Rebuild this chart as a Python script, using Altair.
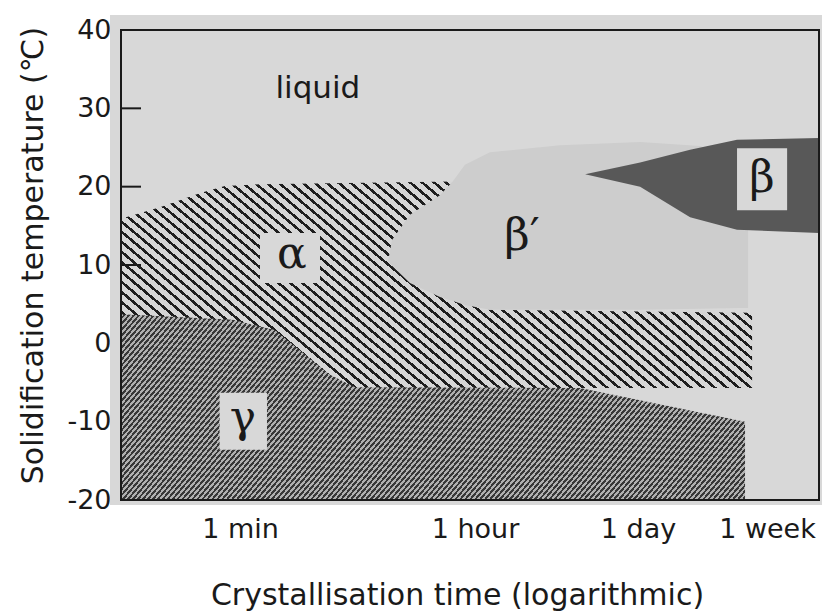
import math
import altair as alt
import pandas as pd

# ---------------- data ----------------
# x: crystallisation time in seconds (drawn on a hand-made logarithmic axis)
time_domain = [7.5, 60, 3600, 86400, 604800, 1.32e6]
time_ticks = [60, 3600, 86400, 604800]
time_tick_labels = ["1 min", "1 hour", "1 day", "1 week"]
temp_ticks = [40, 30, 20, 10, 0, -10, -20]
inner_ticks = [30, 20, 10]

# alpha (hatched \\\ region)
alpha_t = [7.5, 15, 30, 46, 85, 3296, 3965, 483000]
alpha_top = [15.9, 17.4, 19.2, 20.1, 20.3, 20.7, 4.3, 3.9]
alpha_bottom = [-5.7, -5.7, -5.7, -5.7, -5.7, -5.7, -5.7, -5.7]

# gamma (dense /// region)
gamma_t = [7.5, 53, 110, 288, 445, 27900, 434300]
gamma_top = [3.7, 3.0, 1.7, -4.0, -5.6, -5.7, -10.0]
gamma_bottom = [-20, -20, -20, -20, -20, -20, -20]

# beta prime (light stipple)
bp_t = [790, 848, 1160, 1954, 2449, 3020, 4820, 18900, 89200, 220500, 402600, 454600]
bp_top = [10.4, 13.2, 16.4, 18.9, 20.7, 22.8, 24.4, 25.3, 25.7, 25.2, 23.4, 23.4]
bp_bottom = [10.4, 9.9, 7.7, 5.9, 5.4, 4.9, 4.3, 4.3, 4.3, 4.4, 4.5, 4.5]

# beta (dark wedge)
b_t = [30800, 89200, 189600, 384800, 1.32e6]
b_top = [21.6, 23.1, 24.7, 26.0, 26.2]
b_bottom = [21.6, 20.0, 16.1, 14.5, 14.1]

# phase names
phase_labels = ["liquid", "α", "β′", "β", "γ"]
phase_kind = ["sans", "serif", "serif", "serif", "serif"]
phase_t = [233, 148, 9000, 561000, 63]
phase_temp = [31.3, 9.6, 11.9, 19.3, -11.3]

# cleared boxes behind the Greek letters
box_t0 = [85, 384800, 42]
box_t1 = [242, 818000, 96]
box_top = [14.1, 24.9, -6.3]
box_bottom = [7.7, 17.0, -13.6]

# ---------------- styling ----------------
LIQUID = "#d8d8d8"
INK = "#1a1a1a"
W, H = 698, 470


def hatch(w, h, ang, period, lw, c_line, c_bg):
    """Striped linear gradient (objectBoundingBox units) giving screen-space hatching."""
    a = math.radians(ang)
    dx, dy = math.cos(a), math.sin(a)
    nx, ny = -dy, dx
    corners = [(0, 0), (w, 0), (0, h), (w, h)]
    us = [cx * nx + cy * ny for cx, cy in corners]
    i0 = us.index(min(us))
    L = max(us) - min(us)
    k = L / (nx * nx * w / h + ny * ny * h / w)
    x1 = corners[i0][0] / w
    y1 = corners[i0][1] / h
    x2 = x1 + k * nx / h
    y2 = y1 + k * ny / w
    stops = [alt.GradientStop(color=c_bg, offset=0)]
    pos = period / 2
    while pos + lw < L:
        o1 = round(pos / L, 5)
        o2 = round((pos + lw) / L, 5)
        stops += [
            alt.GradientStop(color=c_bg, offset=o1),
            alt.GradientStop(color=c_line, offset=o1),
            alt.GradientStop(color=c_line, offset=o2),
            alt.GradientStop(color=c_bg, offset=o2),
        ]
        pos += period
    stops.append(alt.GradientStop(color=c_bg, offset=1))
    return alt.Gradient(gradient="linear", stops=stops,
                        x1=round(x1, 5), y1=round(y1, 5),
                        x2=round(x2, 5), y2=round(y2, 5))


x_scale = alt.Scale(type="log", domain=time_domain,
                    range=[0, 119, 354, 517, 646, 698], nice=False)
y_scale = alt.Scale(domain=[-20, 40], nice=False, zero=False)

label_expr = " : ".join(
    f"datum.value == {v} ? '{s}'" for v, s in zip(time_ticks, time_tick_labels)
) + " : ''"

x_axis = alt.Axis(values=time_ticks, labelExpr=label_expr, title="Crystallisation time (logarithmic)",
                  domain=False, ticks=False, grid=False, labelPadding=16, labelFlush=False,
                  labelOverlap=False, labelFont="DejaVu Sans", labelFontSize=27, labelColor=INK,
                  titleFont="DejaVu Sans", titleFontSize=30, titleFontWeight="normal", titleColor=INK,
                  titleX=336, titleY=104, titleAlign="center", titleBaseline="alphabetic")
y_axis = alt.Axis(values=temp_ticks, labelExpr="'' + datum.value", title="Solidification temperature (℃)",
                  domain=False, ticks=False, grid=False, labelPadding=10, labelFlush=False,
                  labelOverlap=False, labelFont="DejaVu Sans", labelFontSize=27, labelColor=INK,
                  titleFont="DejaVu Sans", titleFontSize=30, titleFontWeight="normal", titleColor=INK,
                  titleX=-88, titleY=225, titleAngle=270, titleAlign="center", titleBaseline="middle")


def X(field):
    return alt.X(field, type="quantitative", scale=x_scale, axis=x_axis)


def Y(field):
    return alt.Y(field, type="quantitative", scale=y_scale, axis=y_axis)


dummy = pd.DataFrame({"a": [0]})

card = alt.Chart(dummy).mark_rect(color=LIQUID).encode(
    x=alt.value(-11), x2=alt.value(W + 3), y=alt.value(-15), y2=alt.value(H + 5))

alpha_df = pd.DataFrame({"t": alpha_t, "top": alpha_top, "bottom": alpha_bottom})
alpha = alt.Chart(alpha_df).mark_area(
    color=hatch(631, 207, 40, 7.7, 2.6, "#1e1e1e", "#d6d6d6")
).encode(x=X("t"), y=Y("top"), y2="bottom:Q")

gamma_df = pd.DataFrame({"t": gamma_t, "top": gamma_top, "bottom": gamma_bottom})
gamma = alt.Chart(gamma_df).mark_area(
    color=hatch(624, 186, -50, 3.8, 1.9, "#383838", "#b0b0b0")
).encode(x=X("t"), y=Y("top"), y2="bottom:Q")

bp_df = pd.DataFrame({"t": bp_t, "top": bp_top, "bottom": bp_bottom})
bprime = alt.Chart(bp_df).mark_area(color="#cdcdcd").encode(
    x=X("t"), y=Y("top"), y2="bottom:Q")

b_df = pd.DataFrame({"t": b_t, "top": b_top, "bottom": b_bottom})
beta = alt.Chart(b_df).mark_area(color="#585858").encode(
    x=X("t"), y=Y("top"), y2="bottom:Q")

box_df = pd.DataFrame({"t0": box_t0, "t1": box_t1, "top": box_top, "bottom": box_bottom})
boxes = alt.Chart(box_df).mark_rect(color=LIQUID).encode(
    x=X("t0"), x2="t1:Q", y=Y("top"), y2="bottom:Q")

lab_df = pd.DataFrame({"label": phase_labels, "kind": phase_kind, "t": phase_t, "temp": phase_temp})
sans_text = alt.Chart(lab_df).transform_filter("datum.kind == 'sans'").mark_text(
    font="DejaVu Sans", fontSize=31, color=INK, align="center", baseline="alphabetic"
).encode(x=X("t"), y=Y("temp"), text="label:N")
serif_text = alt.Chart(lab_df).transform_filter("datum.kind == 'serif'").mark_text(
    font="DejaVu Serif", fontSize=44, color=INK, align="center", baseline="alphabetic"
).encode(x=X("t"), y=Y("temp"), text="label:N")

tick_df = pd.DataFrame({"temp": inner_ticks})
ticks = alt.Chart(tick_df).mark_rule(color=INK, strokeWidth=2).encode(
    x=alt.value(0), x2=alt.value(20), y=Y("temp"))

frame = alt.Chart(dummy).mark_rect(filled=False, stroke=INK, strokeWidth=2).encode(
    x=alt.value(0), x2=alt.value(W), y=alt.value(0), y2=alt.value(H))

chart = alt.layer(card, alpha, gamma, bprime, beta, boxes, sans_text, serif_text, ticks, frame).properties(
    width=W, height=H,
    autosize=alt.AutoSizeParams(type="none"),
    padding={"left": 121, "top": 30, "right": 3, "bottom": 111},
    background="white",
).configure_view(strokeWidth=0)

chart.save("out.html", embed_options={"renderer": "svg", "actions": False})
